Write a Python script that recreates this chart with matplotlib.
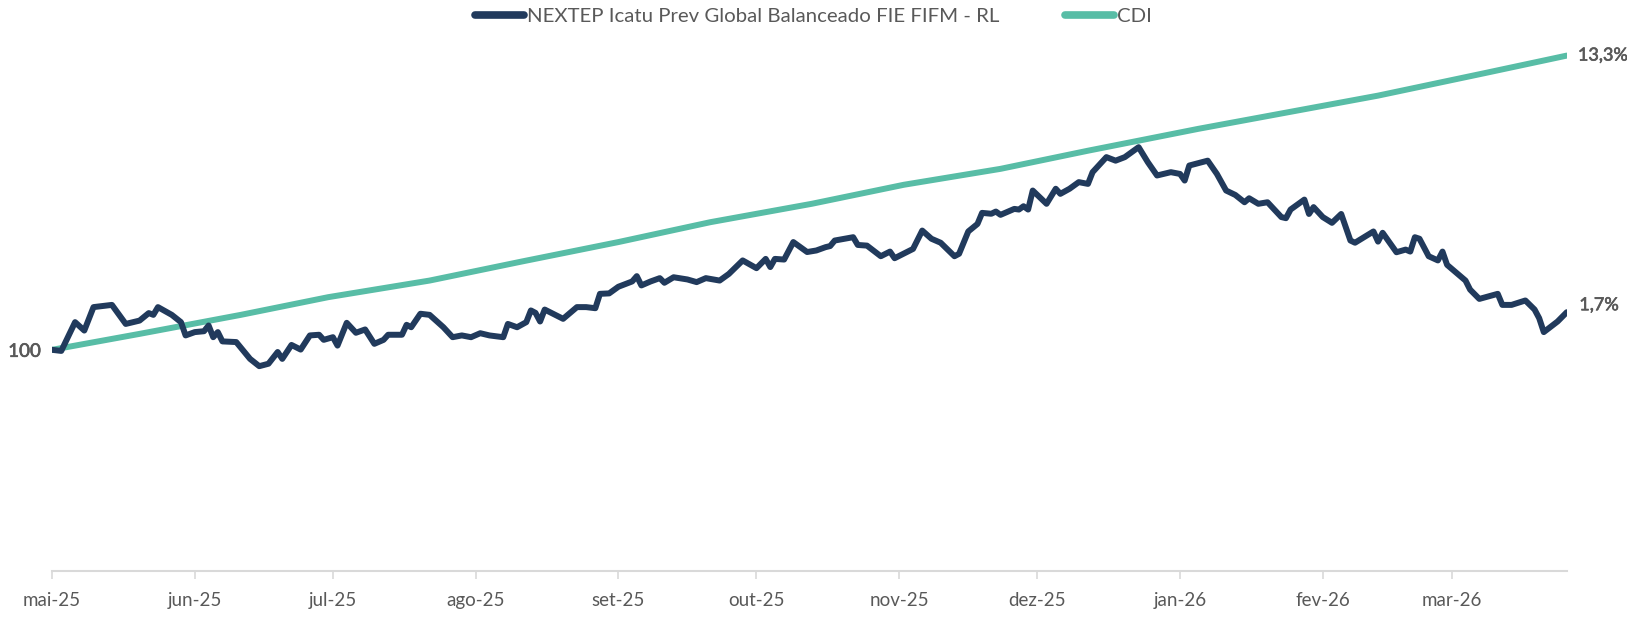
import numpy as np
import pandas as pd
import matplotlib
matplotlib.use("Agg")
import matplotlib.pyplot as plt
import matplotlib.patheffects as pe

plt.rcParams['font.family'] = ['Lato', 'DejaVu Sans']

# fundo (base 100)
fund_dates = [
    "2025-05-01", "2025-05-03", "2025-05-06", "2025-05-08", "2025-05-10", "2025-05-14",
    "2025-05-17", "2025-05-20", "2025-05-22", "2025-05-23", "2025-05-24", "2025-05-27",
    "2025-05-29", "2025-05-30", "2025-06-01", "2025-06-03", "2025-06-04", "2025-06-05",
    "2025-06-06", "2025-06-07", "2025-06-10", "2025-06-13", "2025-06-15", "2025-06-17",
    "2025-06-19", "2025-06-20", "2025-06-22", "2025-06-24", "2025-06-26", "2025-06-28",
    "2025-06-29", "2025-07-01", "2025-07-02", "2025-07-04", "2025-07-06", "2025-07-08",
    "2025-07-10", "2025-07-12", "2025-07-13", "2025-07-16", "2025-07-17", "2025-07-18",
    "2025-07-20", "2025-07-22", "2025-07-25", "2025-07-27", "2025-07-29", "2025-07-31",
    "2025-08-02", "2025-08-04", "2025-08-07", "2025-08-08", "2025-08-10", "2025-08-12",
    "2025-08-13", "2025-08-14", "2025-08-15", "2025-08-16", "2025-08-20", "2025-08-23",
    "2025-08-25", "2025-08-27", "2025-08-28", "2025-08-30", "2025-09-01", "2025-09-04",
    "2025-09-05", "2025-09-06", "2025-09-08", "2025-09-10", "2025-09-11", "2025-09-13",
    "2025-09-16", "2025-09-18", "2025-09-20", "2025-09-23", "2025-09-25", "2025-09-28",
    "2025-10-01", "2025-10-03", "2025-10-04", "2025-10-05", "2025-10-07", "2025-10-09",
    "2025-10-12", "2025-10-14", "2025-10-16", "2025-10-17", "2025-10-18", "2025-10-22",
    "2025-10-23", "2025-10-25", "2025-10-28", "2025-10-30", "2025-10-31", "2025-11-04",
    "2025-11-06", "2025-11-08", "2025-11-10", "2025-11-13", "2025-11-14", "2025-11-16",
    "2025-11-18", "2025-11-19", "2025-11-21", "2025-11-22", "2025-11-23", "2025-11-26",
    "2025-11-27", "2025-11-28", "2025-11-29", "2025-11-30", "2025-12-03", "2025-12-05",
    "2025-12-06", "2025-12-08", "2025-12-10", "2025-12-12", "2025-12-13", "2025-12-16",
    "2025-12-18", "2025-12-20", "2025-12-23", "2025-12-25", "2025-12-27", "2025-12-30",
    "2026-01-01", "2026-01-02", "2026-01-03", "2026-01-07", "2026-01-08", "2026-01-09",
    "2026-01-11", "2026-01-13", "2026-01-15", "2026-01-16", "2026-01-18", "2026-01-20",
    "2026-01-23", "2026-01-24", "2026-01-25", "2026-01-28", "2026-01-29", "2026-01-30",
    "2026-02-01", "2026-02-03", "2026-02-05", "2026-02-07", "2026-02-08", "2026-02-12",
    "2026-02-13", "2026-02-14", "2026-02-17", "2026-02-19", "2026-02-20", "2026-02-21",
    "2026-02-22", "2026-02-24", "2026-02-26", "2026-02-27", "2026-02-28", "2026-03-04",
    "2026-03-05", "2026-03-07", "2026-03-11", "2026-03-12", "2026-03-14", "2026-03-17",
    "2026-03-19", "2026-03-20", "2026-03-21", "2026-03-24", "2026-03-26",
]
fund_values = [
    100.00, 99.95, 101.25, 100.87, 101.93, 102.03,
    101.17, 101.32, 101.66, 101.58, 101.93, 101.58,
    101.25, 100.65, 100.80, 100.84, 101.10, 100.57,
    100.80, 100.38, 100.35, 99.59, 99.26, 99.37,
    99.90, 99.59, 100.22, 100.01, 100.65, 100.68,
    100.45, 100.57, 100.19, 101.22, 100.77, 100.92,
    100.27, 100.45, 100.68, 100.68, 101.13, 101.02,
    101.63, 101.58, 101.02, 100.57, 100.65, 100.57,
    100.75, 100.65, 100.57, 101.17, 101.02, 101.25,
    101.78, 101.67, 101.28, 101.82, 101.40, 101.93,
    101.93, 101.88, 102.53, 102.55, 102.85, 103.09,
    103.33, 102.91, 103.09, 103.24, 103.03, 103.28,
    103.18, 103.06, 103.24, 103.13, 103.43, 104.04,
    103.69, 104.11, 103.74, 104.11, 104.08, 104.87,
    104.42, 104.49, 104.64, 104.69, 104.94, 105.09,
    104.74, 104.71, 104.23, 104.44, 104.14, 104.56,
    105.39, 105.02, 104.84, 104.23, 104.34, 105.35,
    105.69, 106.19, 106.15, 106.25, 106.10, 106.37,
    106.34, 106.49, 106.34, 107.20, 106.60, 107.28,
    107.05, 107.28, 107.58, 107.50, 108.03, 108.71,
    108.55, 108.71, 109.16, 108.48, 107.88, 108.03,
    107.95, 107.65, 108.33, 108.55, 108.25, 107.95,
    107.20, 107.00, 106.67, 106.85, 106.60, 106.67,
    106.00, 105.95, 106.34, 106.79, 106.14, 106.45,
    106.00, 105.74, 106.14, 104.94, 104.84, 105.35,
    104.89, 105.29, 104.41, 104.53, 104.44, 105.09,
    105.02, 104.23, 104.04, 104.44, 103.84, 103.13,
    102.72, 102.30, 102.53, 102.03, 102.03, 102.23,
    101.82, 101.43, 100.80, 101.28, 101.70,
]

# CDI (base 100)
cdi_dates = [
    "2025-05-01", "2025-05-20", "2025-06-11", "2025-06-30", "2025-07-22", "2025-08-11",
    "2025-09-01", "2025-09-21", "2025-10-13", "2025-11-02", "2025-11-23", "2025-12-12",
    "2026-01-05", "2026-02-13", "2026-03-08", "2026-03-26",
]
cdi_values = [
    100.00, 100.72, 101.58, 102.38, 103.13, 103.99,
    104.87, 105.77, 106.60, 107.46, 108.18, 109.00,
    109.99, 111.49, 112.50, 113.30,
]

month_ticks = ["2025-05-01", "2025-06-01", "2025-07-01", "2025-08-01", "2025-09-01",
               "2025-10-01", "2025-11-01", "2025-12-01", "2026-01-01", "2026-02-01",
               "2026-03-01"]
month_labels = ["mai-25", "jun-25", "jul-25", "ago-25", "set-25", "out-25",
                "nov-25", "dez-25", "jan-26", "fev-26", "mar-26"]

fund_name = "NEXTEP Icatu Prev Global Balanceado FIE FIFM - RL"
navy = "#213a5c"
teal = "#58bda6"
gray = "#595959"

fd = pd.to_datetime(fund_dates)
cd = pd.to_datetime(cdi_dates)

fig = plt.figure(figsize=(16.27, 6.20), dpi=100)
ax = fig.add_axes([0.032, 0.079, 0.931, 0.892])

ax.plot(fd, fund_values, color=navy, lw=4.3, label=fund_name,
        solid_joinstyle='round', solid_capstyle='round', zorder=3)
ax.plot(cd, cdi_values, color=teal, lw=4.3, label="CDI",
        solid_joinstyle='round', solid_capstyle='round', zorder=2)

ax.set_xlim(pd.Timestamp("2025-05-01"), pd.Timestamp("2026-03-26"))
ax.set_ylim(90, 115)

ax.set_xticks(pd.to_datetime(month_ticks))
ax.set_xticklabels(month_labels)
ax.tick_params(axis='x', colors="#d9d9d9", length=6, width=1.2, pad=9,
               labelcolor=gray, labelsize=13.5)

bold = [pe.withStroke(linewidth=0.45, foreground=gray)]

ax.set_yticks([100])
ax.set_yticklabels(["100"])
ax.tick_params(axis='y', length=0, pad=8, labelcolor=gray, labelsize=13.5)
for t in ax.get_yticklabels():
    t.set_path_effects(bold)

for s in ['top', 'right', 'left']:
    ax.spines[s].set_visible(False)
ax.spines['bottom'].set_color("#d9d9d9")
ax.spines['bottom'].set_linewidth(1.5)

# rótulos finais
ax.annotate(f"{cdi_values[-1] - 100:.1f}%".replace(".", ","),
            xy=(cd[-1], cdi_values[-1]), xytext=(8, 0), textcoords='offset points',
            va='center', ha='left', color=gray, fontsize=13, path_effects=bold,
            annotation_clip=False)
ax.annotate(f"{fund_values[-1] - 100:.1f}%".replace(".", ","),
            xy=(fd[-1], fund_values[-1]), xytext=(9, 5), textcoords='offset points',
            va='center', ha='left', color=gray, fontsize=13, path_effects=bold,
            annotation_clip=False)

leg = fig.legend(loc='upper center', bbox_to_anchor=(0.5, 1.017), ncol=2, frameon=False,
                 fontsize=14.7, handlelength=2.4, handletextpad=0.15, columnspacing=3.2,
                 labelcolor=gray)
for line in leg.get_lines():
    line.set_linewidth(5.5)

fig.savefig("out.png", dpi=100)
